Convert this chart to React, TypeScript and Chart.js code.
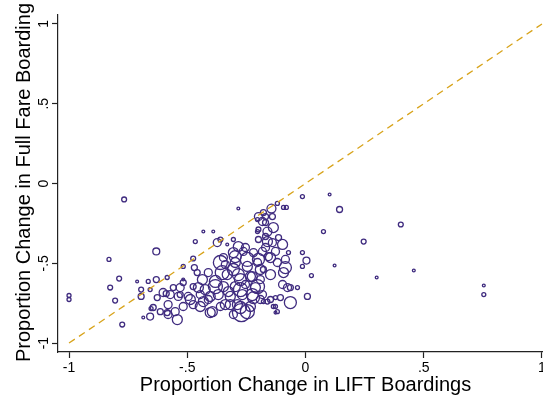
import React, { useEffect, useRef } from "react";
import { Chart, registerables } from "chart.js";

Chart.register(...registerables);

// Proportion change in LIFT boardings (x), full fare boardings (y), bubble weight
const xValues = [
  -1.0, -1.0, -0.767, -0.631, -0.831, -0.788, -0.826, -0.712, -0.665, -0.631,
  -0.695, -0.657, -0.695, -0.805, -0.775, -0.653, -0.686, -0.657, -0.589, -0.627,
  -0.602, -0.572, -0.53, -0.496, -0.445, -0.585, -0.559, -0.517, -0.475, -0.432,
  -0.475, -0.517, -0.551, -0.585, -0.614, -0.644, -0.403, -0.581, -0.542, -0.581,
  -0.487, -0.445, -0.394, -0.36, -0.403, -0.538, -0.517, -0.47, -0.458, -0.411,
  -0.517, -0.436, -0.53, -0.453, -0.381, -0.381, -0.424, -0.326, -0.369, -0.411,
  -0.475, -0.432, -0.39, -0.466, -0.373, -0.36, -0.331, -0.36, -0.284, -0.305,
  -0.284, -0.297, -0.347, -0.254, -0.246, -0.305, -0.352, -0.275, -0.233, -0.191,
  -0.199, -0.148, -0.119, -0.148, -0.203, -0.275, -0.225, -0.275, -0.246, -0.318,
  -0.271, -0.191, -0.148, -0.106, -0.064, -0.076, -0.034, 0.008, -0.127, -0.119,
  -0.093, -0.013, -0.097, -0.064, -0.161, -0.127, -0.136, -0.127, -0.013, -0.093,
  -0.081, -0.119, -0.144, -0.199, -0.169, -0.169, -0.199, -0.161, -0.161, -0.14,
  -0.097, -0.072, -0.013, -0.085, -0.178, -0.14, -0.182, -0.136, -0.169, -0.114,
  -0.169, -0.127, -0.157, -0.085, -0.203, -0.203, -0.199, -0.305, -0.263, -0.22,
  -0.182, -0.339, -0.297, -0.246, -0.203, -0.178, -0.331, -0.284, -0.225, -0.191,
  -0.347, -0.297, -0.254, -0.212, -0.318, -0.267, -0.22, -0.182, -0.339, -0.288,
  -0.233, -0.305, -0.178, 0.102, 0.144, 0.403, 0.076, 0.246, 0.004, 0.123,
  0.025, 0.301, 0.458, 0.754, 0.754,
];

const yValues = [
  -0.702, -0.727, -0.1, -0.426, -0.476, -0.596, -0.652, -0.614, -0.614, -0.602,
  -0.665, -0.665, -0.708, -0.734, -0.884, -0.784, -0.84, -0.834, -0.69, -0.715,
  -0.683, -0.696, -0.696, -0.708, -0.696, -0.589, -0.652, -0.621, -0.646, -0.74,
  -0.759, -0.771, -0.803, -0.809, -0.803, -0.777, -0.809, -0.759, -0.853, -0.821,
  -0.727, -0.771, -0.803, -0.771, -0.708, -0.708, -0.52, -0.527, -0.558, -0.558,
  -0.602, -0.602, -0.652, -0.652, -0.614, -0.646, -0.665, -0.677, -0.696, -0.727,
  -0.47, -0.301, -0.301, -0.364, -0.37, -0.351, -0.382, -0.495, -0.157, -0.351,
  -0.395, -0.458, -0.464, -0.401, -0.476, -0.539, -0.558, -0.602, -0.583, -0.539,
  -0.476, -0.464, -0.495, -0.571, -0.646, -0.665, -0.696, -0.777, -0.803, -0.759,
  -0.809, -0.727, -0.727, -0.715, -0.746, -0.652, -0.652, -0.708, -0.771, -0.803,
  -0.558, -0.52, -0.633, -0.652, -0.74, -0.715, -0.771, -0.809, -0.082, -0.15,
  -0.15, -0.125, -0.157, -0.207, -0.207, -0.245, -0.288, -0.301, -0.364, -0.37,
  -0.382, -0.433, -0.433, -0.527, -0.182, -0.207, -0.238, -0.276, -0.332, -0.339,
  -0.401, -0.426, -0.458, -0.476, -0.226, -0.301, -0.351, -0.433, -0.426, -0.433,
  -0.426, -0.508, -0.495, -0.52, -0.495, -0.539, -0.571, -0.571, -0.583, -0.602,
  -0.646, -0.646, -0.633, -0.652, -0.708, -0.696, -0.715, -0.696, -0.759, -0.759,
  -0.771, -0.821, -0.74, -0.069, -0.163, -0.257, -0.301, -0.364, -0.483, -0.514,
  -0.577, -0.589, -0.545, -0.639, -0.696,
];

const weights = [
  4, 4, 6, 12, 4, 6, 6, 2, 4, 9,
  6, 4, 9, 6, 6, 4, 2, 12, 9, 9,
  16, 16, 9, 16, 16, 4, 9, 9, 9, 25,
  16, 16, 16, 9, 9, 9, 25, 16, 25, 16,
  25, 25, 25, 16, 25, 16, 4, 9, 9, 16,
  2, 25, 16, 25, 36, 49, 25, 25, 25, 16,
  6, 2, 2, 4, 16, 6, 2, 49, 2, 4,
  25, 36, 16, 16, 49, 36, 49, 36, 25, 25,
  36, 25, 16, 25, 49, 49, 36, 36, 49, 25,
  81, 16, 9, 9, 36, 16, 4, 9, 4, 4,
  25, 4, 16, 9, 6, 4, 4, 2, 4, 4,
  4, 4, 20, 16, 9, 9, 6, 20, 25, 16,
  25, 4, 4, 36, 9, 9, 16, 25, 9, 9,
  16, 16, 16, 16, 4, 4, 9, 25, 16, 16,
  16, 16, 25, 25, 16, 9, 25, 36, 25, 16,
  25, 25, 16, 25, 25, 25, 36, 16, 25, 25,
  25, 16, 4, 2, 9, 6, 4, 6, 12, 2,
  4, 2, 2, 2, 4,
];

// 45-degree reference line
const refLineX = [-1, 1];
const refLineY = [-1, 1];

const xTicks = [-1, -0.5, 0, 0.5, 1];
const xTickLabels = ["-1", "-.5", "0", ".5", "1"];
const yTicks = [-1, -0.5, 0, 0.5, 1];
const yTickLabels = ["-1", "-.5", "0", ".5", "1"];

const xTitle = "Proportion Change in LIFT Boardings";
const yTitle = "Proportion Change in Full Fare Boarding";

const PURPLE = "#3f2b7f";
const GOLD = "#d8a31a";
const FONT = "'Liberation Sans', Arial, Helvetica, sans-serif";

export default function App() {
  const ref = useRef<HTMLCanvasElement | null>(null);

  useEffect(() => {
    const canvas = ref.current;
    if (!canvas) return;

    const yTitlePlugin = {
      id: "yTitlePlugin",
      afterDraw(chart: any) {
        const { ctx, chartArea } = chart;
        ctx.save();
        ctx.font = `20px ${FONT}`;
        ctx.fillStyle = "#000";
        ctx.textAlign = "center";
        ctx.textBaseline = "alphabetic";
        ctx.translate(29.5, (chartArea.top + chartArea.bottom) / 2 - 1);
        ctx.rotate(-Math.PI / 2);
        ctx.fillText(yTitle, 0, 0);
        ctx.restore();
      },
    };

    const chart = new Chart(canvas, {
      type: "bubble",
      data: {
        datasets: [
          {
            type: "line",
            data: refLineX.map((x, i) => ({ x, y: refLineY[i] })),
            borderColor: GOLD,
            borderWidth: 1.3,
            borderDash: [7, 5],
            pointRadius: 0,
            fill: false,
            order: 0,
          } as any,
          {
            type: "bubble",
            data: xValues.map((x, i) => ({ x, y: yValues[i], r: Math.sqrt(weights[i]) })),
            borderColor: PURPLE,
            backgroundColor: "rgba(0,0,0,0)",
            borderWidth: 1.3,
            order: 1,
          },
        ],
      },
      options: {
        responsive: false,
        animation: false,
        devicePixelRatio: 1,
        events: [],
        layout: {
          autoPadding: false,
          padding: { top: 15, right: 0, bottom: 0, left: 0 },
        },
        plugins: {
          legend: { display: false },
          tooltip: { enabled: false },
        },
        scales: {
          x: {
            type: "linear",
            min: -1.0466,
            max: 1.0466,
            afterBuildTicks: (s: any) => {
              s.ticks = xTicks.map((v) => ({ value: v }));
            },
            afterFit: (s: any) => {
              s.height = 50;
              s.paddingLeft = 0;
              s.paddingRight = 0;
            },
            grid: {
              display: true,
              drawOnChartArea: false,
              drawTicks: true,
              tickLength: 6,
              tickColor: "#222",
              tickWidth: 1.2,
            },
            border: { display: true, color: "#222", width: 1.2 },
            ticks: {
              padding: 2,
              color: "#000",
              maxRotation: 0,
              minRotation: 0,
              font: { family: FONT, size: 14 },
              callback: (v: any) => xTickLabels[xTicks.indexOf(Number(v))],
            },
            title: {
              display: true,
              text: xTitle,
              color: "#000",
              font: { family: FONT, size: 20 },
              padding: { top: 0, bottom: 5 },
            },
          },
          y: {
            type: "linear",
            min: -1.056,
            max: 1.056,
            afterBuildTicks: (s: any) => {
              s.ticks = yTicks.map((v) => ({ value: v }));
            },
            afterFit: (s: any) => {
              s.width = 58;
              s.paddingTop = 0;
              s.paddingBottom = 0;
            },
            grid: {
              display: true,
              drawOnChartArea: false,
              drawTicks: true,
              tickLength: 6,
              tickColor: "#222",
              tickWidth: 1.2,
            },
            border: { display: true, color: "#222", width: 1.2 },
            ticks: {
              padding: 0,
              color: "#000",
              minRotation: 90,
              maxRotation: 90,
              crossAlign: "center",
              font: { family: FONT, size: 14 },
              callback: (v: any) => yTickLabels[yTicks.indexOf(Number(v))],
            },
            title: { display: false },
          },
        },
      },
      plugins: [yTitlePlugin],
    } as any);

    return () => chart.destroy();
  }, []);

  return (
    <div
      style={{
        position: "fixed",
        left: 0,
        top: 0,
        width: 543,
        height: 402,
        overflow: "hidden",
        background: "#fff",
      }}
    >
      <div style={{ width: 553, height: 402 }}>
        <canvas
          ref={ref}
          width={553}
          height={402}
          style={{ display: "block", width: "553px", height: "402px" }}
        />
      </div>
    </div>
  );
}
